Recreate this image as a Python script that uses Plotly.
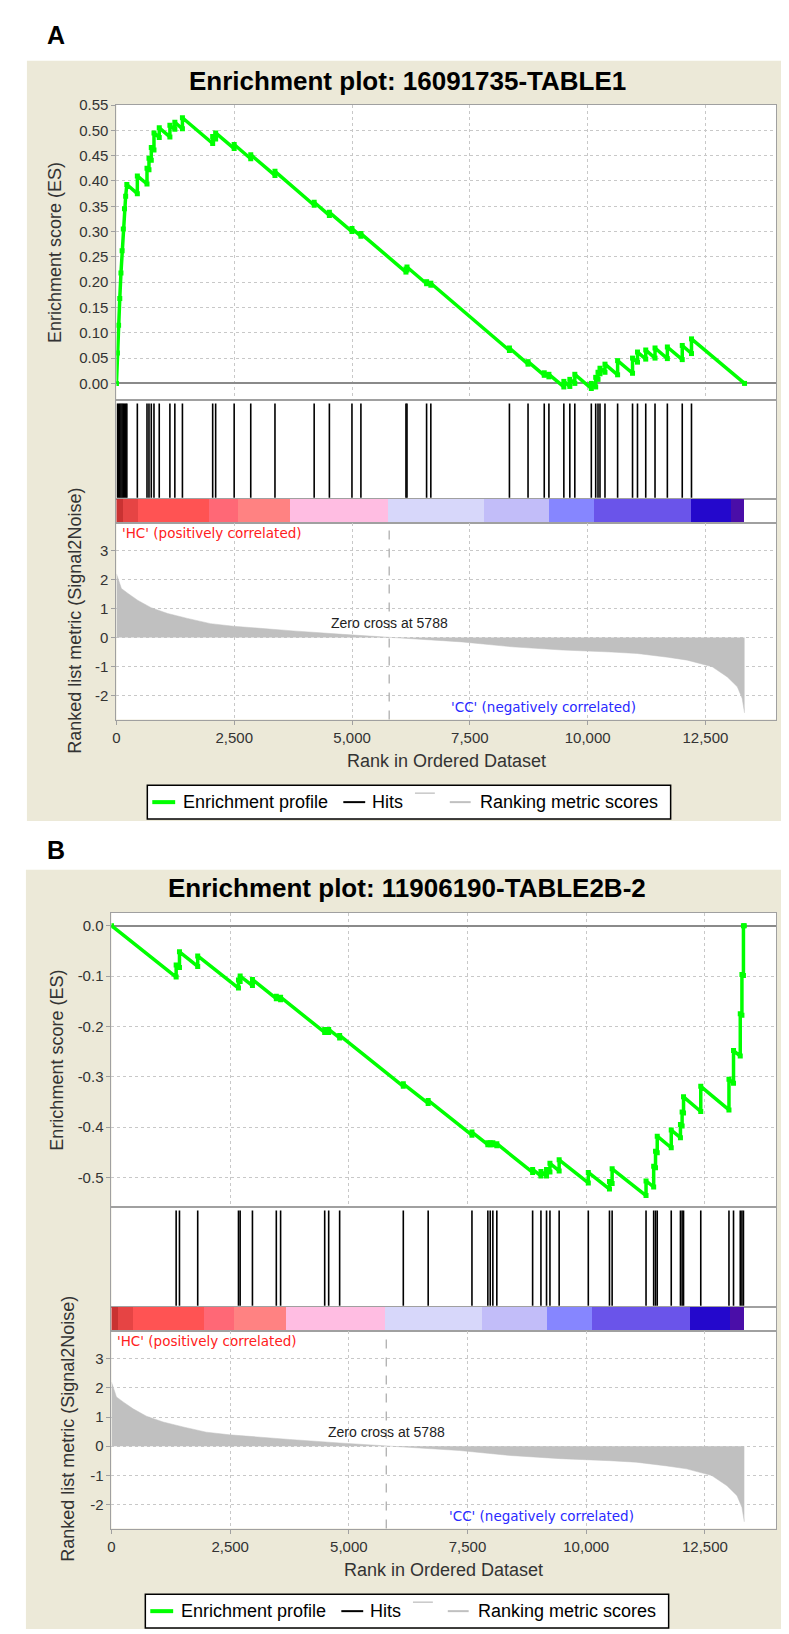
import plotly.graph_objects as go

W, H = 789, 1634
FONT = "Liberation Sans, Arial, sans-serif"
FONT_WIDE = "DejaVu Sans, Verdana, sans-serif"

# ---------------- data ----------------
RANK_MAX = 14000
N_GENES = 13330
ZERO_CROSS = 5788
RANK_TICKS = [0, 2500, 5000, 7500, 10000, 12500]
RANK_TICK_TEXT = ["0", "2,500", "5,000", "7,500", "10,000", "12,500"]

# ranked list metric (Signal2Noise), read from the grey area
METRIC_RANK = [0, 50, 105, 245, 456, 736, 1087, 1507, 1997, 2482, 3050, 3750, 4800,
               5788, 6480, 7330, 8395, 9458, 10500, 11050, 11700, 12115, 12645,
               12965, 13177, 13280, 13330]
METRIC_VALUE = [2.2, 1.95, 1.69, 1.52, 1.28, 1.03, 0.83, 0.66, 0.48, 0.39, 0.31, 0.23, 0.11,
                0.0, -0.07, -0.15, -0.32, -0.43, -0.5, -0.55, -0.68, -0.78, -1.01,
                -1.36, -1.7, -2.1, -2.6]
METRIC_TICKS = [-2, -1, 0, 1, 2, 3]
METRIC_TICK_TEXT = ["-2", "-1", "0", "1", "2", "3"]
METRIC_RANGE = [-2.83, 3.97]

# heat-map bar under the hits
BAND_EDGES = [0, 148, 465, 1964, 2597, 3695, 5764, 7813, 9185, 10135, 12204, 13049, 13330]
BAND_COLORS = ["#c93232", "#e64444", "#ff5353", "#ff6876", "#ff8282", "#ffbde2",
               "#d7d7fa", "#c2bdf9", "#8686ff", "#6a54ea", "#2408cc", "#4a0ea8"]

# ---- panel A ----
TITLE_A = "Enrichment plot: 16091735-TABLE1"
HITS_A = [20, 45, 70, 95, 120, 145, 170, 195, 220, 443, 648, 690, 739, 796, 908, 1134,
          1239, 1400, 2042, 2105, 2498, 2850, 3364, 4196, 4519, 4998, 5188, 6144, 6166,
          6582, 6672, 8340, 8735, 9079, 9178, 9495, 9622, 9728, 10078, 10171, 10220,
          10262, 10368, 10636, 10953, 11058, 11233, 11430, 11692, 12008, 12204]
ES_A = [(0, 0.0), (20, 0.06), (45, 0.115), (70, 0.168), (95, 0.218), (120, 0.262),
        (145, 0.305), (170, 0.345), (195, 0.370), (220, 0.393),
        (443, 0.375), (443, 0.410), (648, 0.394), (648, 0.425), (690, 0.422), (690, 0.445),
        (739, 0.441), (739, 0.466), (796, 0.461), (796, 0.495), (908, 0.486), (908, 0.505),
        (1134, 0.487), (1134, 0.510), (1239, 0.502), (1239, 0.516), (1400, 0.503), (1400, 0.525),
        (2042, 0.474), (2042, 0.488), (2105, 0.483), (2105, 0.495), (2498, 0.464), (2498, 0.472),
        (2850, 0.444), (2850, 0.452), (3364, 0.411), (3364, 0.419), (4196, 0.352), (4196, 0.358),
        (4519, 0.332), (4519, 0.338), (4998, 0.300), (4998, 0.306), (5188, 0.291), (5188, 0.296),
        (6144, 0.220), (6144, 0.226), (6166, 0.224), (6166, 0.230), (6582, 0.197), (6582, 0.201),
        (6672, 0.194), (6672, 0.198), (8340, 0.065), (8340, 0.070), (8735, 0.038), (8735, 0.043),
        (9079, 0.016), (9079, 0.021), (9178, 0.013), (9178, 0.018), (9495, -0.007), (9495, 0.004),
        (9622, -0.006), (9622, 0.008), (9728, 0.0), (9728, 0.018), (10078, -0.010), (10078, 0.0),
        (10171, -0.007), (10171, 0.012), (10220, 0.008), (10220, 0.022), (10262, 0.019), (10262, 0.030),
        (10368, 0.022), (10368, 0.038), (10636, 0.017), (10636, 0.045), (10953, 0.020), (10953, 0.050),
        (11058, 0.042), (11058, 0.062), (11233, 0.048), (11233, 0.066), (11430, 0.050), (11430, 0.070),
        (11692, 0.049), (11692, 0.072), (12008, 0.047), (12008, 0.075), (12204, 0.059), (12204, 0.088),
        (13330, 0.0)]
ES_A_TICKS = [0.0, 0.05, 0.10, 0.15, 0.20, 0.25, 0.30, 0.35, 0.40, 0.45, 0.50, 0.55]
ES_A_TICK_TEXT = ["0.00", "0.05", "0.10", "0.15", "0.20", "0.25", "0.30", "0.35",
                  "0.40", "0.45", "0.50", "0.55"]

# ---- panel B ----
TITLE_B = "Enrichment plot: 11906190-TABLE2B-2"
HITS_B = [1362, 1432, 1816, 2675, 2710, 2969, 3472, 3562, 4491, 4575, 4806, 6147, 6671,
          7593, 7928, 7978, 8033, 8117, 8871, 9046, 9164, 9236, 9430, 10044, 10490, 10546,
          11260, 11421, 11460, 11496, 11791, 11985, 12020, 12050, 12413, 13007, 13103,
          13245, 13280, 13312]
ES_B = [(0, 0.0),
        (1362, -0.102), (1362, -0.078), (1432, -0.083), (1432, -0.052), (1816, -0.081), (1816, -0.060),
        (2675, -0.124), (2675, -0.108), (2710, -0.111), (2710, -0.100), (2969, -0.119), (2969, -0.107),
        (3472, -0.145), (3472, -0.140), (3562, -0.147), (3562, -0.142), (4491, -0.212), (4491, -0.206),
        (4575, -0.212), (4575, -0.206), (4806, -0.223), (4806, -0.218), (6147, -0.319), (6147, -0.314),
        (6671, -0.353), (6671, -0.347), (7593, -0.416), (7593, -0.410), (7928, -0.435), (7928, -0.431),
        (7978, -0.435), (7978, -0.431), (8033, -0.435), (8033, -0.431), (8117, -0.437), (8117, -0.433),
        (8871, -0.490), (8871, -0.484), (9046, -0.497), (9046, -0.488), (9164, -0.497), (9164, -0.484),
        (9236, -0.489), (9236, -0.472), (9430, -0.487), (9430, -0.465), (10044, -0.511), (10044, -0.490),
        (10490, -0.523), (10490, -0.508), (10546, -0.512), (10546, -0.483), (11260, -0.536), (11260, -0.507),
        (11421, -0.519), (11421, -0.478), (11460, -0.481), (11460, -0.448), (11496, -0.451), (11496, -0.418),
        (11791, -0.441), (11791, -0.406), (11985, -0.421), (11985, -0.395), (12020, -0.398), (12020, -0.370),
        (12050, -0.372), (12050, -0.340), (12413, -0.369), (12413, -0.319), (13007, -0.366), (13007, -0.305),
        (13103, -0.313), (13103, -0.248), (13245, -0.259), (13245, -0.175), (13280, -0.178), (13280, -0.097),
        (13312, -0.099), (13312, 0.0), (13330, 0.0)]
ES_B_TICKS = [0.0, -0.1, -0.2, -0.3, -0.4, -0.5]
ES_B_TICK_TEXT = ["0.0", "-0.1", "-0.2", "-0.3", "-0.4", "-0.5"]

LEGEND_LABELS = ["Enrichment profile", "Hits", "Ranking metric scores"]
HC_LABEL = "'HC' (positively correlated)"
CC_LABEL = "'CC' (negatively correlated)"

# ---------------- layout geometry (pixels) ----------------
PANELS = [
    dict(tag="A", title=TITLE_A, hits=HITS_A, es=ES_A, es_ticks=ES_A_TICKS, es_text=ES_A_TICK_TEXT,
         es_range=[-0.033, 0.551], left=105, right=768, es_top=89, es_bot=386, hit_bot=485,
         cb_bot=509, met_bot=707, label_xy=(44, 19), title_xy=(398, 65), es_title_xy=(44, 237.5),
         met_title_xy=(63, 608), xtitle_xy=(437, 749), legend_box=(136, 773, 662, 807),
         beige=(15, 45, 780, 809)),
    dict(tag="B", title=TITLE_B, hits=HITS_B, es=ES_B, es_ticks=ES_B_TICKS, es_text=ES_B_TICK_TEXT,
         es_range=[-0.559, 0.026], left=100, right=768, es_top=901, es_bot=1197, hit_bot=1297,
         cb_bot=1321, met_bot=1520, label_xy=(44, 838), title_xy=(397, 876.5), es_title_xy=(45, 1049),
         met_title_xy=(56, 1420), xtitle_xy=(434, 1562), legend_box=(134, 1586, 660, 1620),
         beige=(14, 858, 780, 1621)),
]

GRID = "#c8c8c8"
BORDER = "#a0a0a0"
TICKFONT = dict(family=FONT, size=15, color="#333333")


def xp(px):
    return px / W


def yp(px):
    return 1 - px / H


def axname(prefix, k):
    return f"{prefix}axis" if k == 1 else f"{prefix}axis{k}"


def ref(prefix, k):
    return prefix if k == 1 else f"{prefix}{k}"


fig = go.Figure()
shapes = []
annotations = []
axes = {}

band_centers = [(a + b) / 2 for a, b in zip(BAND_EDGES[:-1], BAND_EDGES[1:])]
band_widths = [b - a for a, b in zip(BAND_EDGES[:-1], BAND_EDGES[1:])]

for i, p in enumerate(PANELS):
    base = 4 * i
    k_es, k_hit, k_cb, k_met = base + 1, base + 2, base + 3, base + 4
    xd = [xp(p["left"]), xp(p["right"])]
    rows = {k_es: (p["es_top"], p["es_bot"]), k_hit: (p["es_bot"], p["hit_bot"]),
            k_cb: (p["hit_bot"], p["cb_bot"]), k_met: (p["cb_bot"], p["met_bot"])}
    for k, (t, b) in rows.items():
        axes[axname("x", k)] = dict(domain=xd, range=[0, RANK_MAX], anchor=ref("y", k), showline=True,
                                    mirror=True, linecolor=BORDER, linewidth=1, zeroline=False,
                                    showgrid=False, showticklabels=False, ticks="", fixedrange=True)
        axes[axname("y", k)] = dict(domain=[yp(b), yp(t)], anchor=ref("x", k), showline=True,
                                    mirror=True, linecolor=BORDER, linewidth=1, zeroline=False,
                                    showgrid=False, showticklabels=False, ticks="", range=[0, 1],
                                    fixedrange=True)
    axes[axname("x", k_es)].update(showgrid=True, gridcolor=GRID, griddash="dot", tickvals=RANK_TICKS)
    axes[axname("y", k_es)].update(range=p["es_range"], showgrid=True, gridcolor=GRID, griddash="dot",
                                   tickvals=p["es_ticks"], ticktext=p["es_text"], showticklabels=True,
                                   ticks="outside", ticklen=4, tickcolor=BORDER, tickfont=TICKFONT,
                                   zeroline=True, zerolinecolor="#8a8a8a", zerolinewidth=1.5)
    axes[axname("x", k_met)].update(showgrid=True, gridcolor=GRID, griddash="dot", tickvals=RANK_TICKS,
                                    ticktext=RANK_TICK_TEXT, showticklabels=True, ticks="outside",
                                    ticklen=4, tickcolor=BORDER, tickfont=TICKFONT)
    axes[axname("y", k_met)].update(range=METRIC_RANGE, showgrid=True, gridcolor=GRID, griddash="dot",
                                    tickvals=METRIC_TICKS, ticktext=METRIC_TICK_TEXT, showticklabels=True,
                                    ticks="outside", ticklen=4, tickcolor=BORDER, tickfont=TICKFONT)

    # backgrounds
    bl, bt, br, bb = p["beige"]
    shapes.append(dict(type="rect", xref="paper", yref="paper", x0=xp(bl), x1=xp(br), y0=yp(bb), y1=yp(bt),
                       fillcolor="#ece9d8", line=dict(width=0), layer="below"))
    shapes.append(dict(type="rect", xref="paper", yref="paper", x0=xp(p["left"]), x1=xp(p["right"]),
                       y0=yp(p["met_bot"]), y1=yp(p["es_top"]), fillcolor="white", line=dict(width=0),
                       layer="below"))

    # metric area
    fig.add_trace(go.Scatter(x=METRIC_RANK, y=METRIC_VALUE, mode="lines", fill="tozeroy",
                             fillcolor="#c0c0c0", line=dict(color="#c0c0c0", width=0.5),
                             xaxis=ref("x", k_met), yaxis=ref("y", k_met), showlegend=False,
                             hoverinfo="skip"))
    # colour band
    fig.add_trace(go.Bar(x=band_centers, y=[1] * len(band_centers), width=band_widths,
                         marker=dict(color=BAND_COLORS, line=dict(width=0)),
                         xaxis=ref("x", k_cb), yaxis=ref("y", k_cb), showlegend=False, hoverinfo="skip"))
    # hits
    hx, hy = [], []
    for h in p["hits"]:
        hx += [h, h, None]
        hy += [0.01, 0.965, None]
    fig.add_trace(go.Scatter(x=hx, y=hy, mode="lines", line=dict(color="black", width=1.6),
                             xaxis=ref("x", k_hit), yaxis=ref("y", k_hit), showlegend=False,
                             hoverinfo="skip"))
    # enrichment profile
    fig.add_trace(go.Scatter(x=[r for r, _ in p["es"]], y=[s for _, s in p["es"]], mode="lines+markers",
                             line=dict(color="#00ff00", width=3.5),
                             marker=dict(color="#00ff00", size=5, symbol="square"),
                             xaxis=ref("x", k_es), yaxis=ref("y", k_es), showlegend=False,
                             hoverinfo="skip"))

    # zero-cross dashed line
    shapes.append(dict(type="line", xref=ref("x", k_met), yref=f"{ref('y', k_met)} domain",
                       x0=ZERO_CROSS, x1=ZERO_CROSS, y0=0, y1=1,
                       line=dict(color="#a8a8a8", width=1.2, dash="dash")))

    # texts
    lx, ly = p["label_xy"]
    annotations.append(dict(text=f"<b>{p['tag']}</b>", xref="paper", yref="paper", x=xp(lx), y=yp(ly),
                            showarrow=False, font=dict(family=FONT, size=25, color="black"),
                            xanchor="center", yanchor="middle"))
    tx, ty = p["title_xy"]
    annotations.append(dict(text=f"<b>{p['title']}</b>", xref="paper", yref="paper", x=xp(tx), y=yp(ty),
                            showarrow=False, font=dict(family=FONT, size=26, color="black"),
                            xanchor="center", yanchor="middle"))
    ex, ey = p["es_title_xy"]
    annotations.append(dict(text="Enrichment score (ES)", xref="paper", yref="paper", x=xp(ex), y=yp(ey),
                            showarrow=False, textangle=-90, font=dict(family=FONT, size=18, color="#333333"),
                            xanchor="center", yanchor="middle"))
    mx, my = p["met_title_xy"]
    annotations.append(dict(text="Ranked list metric (Signal2Noise)", xref="paper", yref="paper",
                            x=xp(mx), y=yp(my), showarrow=False, textangle=-90,
                            font=dict(family=FONT, size=18, color="#333333"),
                            xanchor="center", yanchor="middle"))
    qx, qy = p["xtitle_xy"]
    annotations.append(dict(text="Rank in Ordered Dataset", xref="paper", yref="paper", x=xp(qx), y=yp(qy),
                            showarrow=False, font=dict(family=FONT, size=18, color="#333333"),
                            xanchor="center", yanchor="middle"))
    annotations.append(dict(text=HC_LABEL, xref=ref("x", k_met), yref=ref("y", k_met), x=80, y=3.61,
                            showarrow=False, font=dict(family=FONT_WIDE, size=13.5, color="#ff2020"),
                            xanchor="left", yanchor="middle"))
    annotations.append(dict(text=CC_LABEL, xref=ref("x", k_met), yref=ref("y", k_met), x=9058, y=-2.41,
                            showarrow=False, font=dict(family=FONT_WIDE, size=13.5, color="#2a2aff"),
                            xanchor="center", yanchor="middle"))
    annotations.append(dict(text=f"Zero cross at {ZERO_CROSS}", xref=ref("x", k_met), yref=ref("y", k_met),
                            x=ZERO_CROSS, y=0.5, showarrow=False,
                            font=dict(family=FONT, size=14, color="#222222"),
                            xanchor="center", yanchor="middle"))

    # legend box
    gl, gt, gr, gb = p["legend_box"]
    gc = (gt + gb) / 2
    shapes.append(dict(type="rect", xref="paper", yref="paper", x0=xp(gl), x1=xp(gr), y0=yp(gb), y1=yp(gt),
                       fillcolor="white", line=dict(color="black", width=1.5)))
    shapes.append(dict(type="line", xref="paper", yref="paper", x0=xp(gl + 5), x1=xp(gl + 28),
                       y0=yp(gc), y1=yp(gc), line=dict(color="#00ff00", width=4)))
    shapes.append(dict(type="line", xref="paper", yref="paper", x0=xp(gl + 197), x1=xp(gl + 219),
                       y0=yp(gc), y1=yp(gc), line=dict(color="black", width=2)))
    shapes.append(dict(type="line", xref="paper", yref="paper", x0=xp(gl + 269), x1=xp(gl + 289),
                       y0=yp(gc - 9), y1=yp(gc - 9), line=dict(color="#c8c8c8", width=1.5)))
    shapes.append(dict(type="line", xref="paper", yref="paper", x0=xp(gl + 304), x1=xp(gl + 325),
                       y0=yp(gc), y1=yp(gc), line=dict(color="#c0c0c0", width=2)))
    for off, txt in zip([34, 224, 332], LEGEND_LABELS):
        annotations.append(dict(text=txt, xref="paper", yref="paper", x=xp(gl + off), y=yp(gc),
                                showarrow=False, font=dict(family=FONT, size=18, color="black"),
                                xanchor="left", yanchor="middle"))

fig.update_layout(width=W, height=H, autosize=False, margin=dict(l=0, r=0, t=0, b=0),
                  paper_bgcolor="white", plot_bgcolor="white", showlegend=False,
                  shapes=shapes, annotations=annotations, bargap=0, **axes)

fig.write_html("out.html")
